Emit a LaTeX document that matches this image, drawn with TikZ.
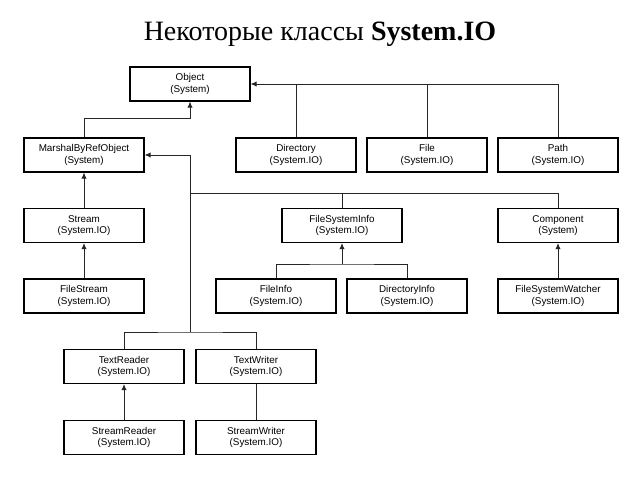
\documentclass[tikz,border=0pt]{standalone}
\usepackage{fontspec}
\setmainfont{Liberation Serif}
\newfontfamily\boxfont{Liberation Sans}
\usetikzlibrary{positioning, arrows.meta}

\begin{document}
\begin{tikzpicture}
[
    x=0.75pt, y=-0.75pt, line width=0.7pt,
    % The classes are nodes named after the class: C-name
    % Connectors meet at helper coordinates J-1 ... J-4
]

%=================================== Start ===================================
\tikzstyle{cls}   = [draw, shape=rectangle, align=center, inner sep=0pt,
                     line width=0.85pt,
                     minimum width=90pt, minimum height=25.5pt,
                     font=\boxfont\fontsize{7.4}{8.6}\selectfont]
\tikzstyle{link}  = [draw, black!85]
\tikzstyle{isa}   = [link, -{Latex[length=4.5pt, width=4pt]}]

\useasboundingbox (0,0) rectangle (640,480);

\node[font=\fontsize{21}{24}\selectfont] (title) at (320,34)
    {Некоторые классы \textbf{System.IO}};

{
    % Draw the classes
    \foreach \name / \x / \y / \cls / \ns in {
        obj/190/84/Object/System,
        mbro/84/155/MarshalByRefObject/System,
        dir/296/155/Directory/System.IO,
        file/427/155/File/System.IO,
        path/558/155/Path/System.IO,
        stream/84/225.5/Stream/System.IO,
        fsi/342/225.5/FileSystemInfo/System.IO,
        comp/558/225.5/Component/System,
        fstream/84/296/FileStream/System.IO,
        finfo/276/296/FileInfo/System.IO,
        dinfo/407/296/DirectoryInfo/System.IO,
        fsw/558/296/FileSystemWatcher/System.IO,
        treader/124/366.5/TextReader/System.IO,
        twriter/256/366.5/TextWriter/System.IO,
        sreader/124/437.5/StreamReader/System.IO,
        swriter/256/437.5/StreamWriter/System.IO}
        \node[cls] (C-\name) at (\x,\y) {\cls\\(\ns)};

    % helper coordinates
    \coordinate (J-1) at (190,193);
    \coordinate (J-2) at (190,332);
    \coordinate (J-3) at (342,264);
    \coordinate (J-4) at (84,118);

    % Directory, File, Path -> Object
    \draw[isa] (C-path.north) |- (C-obj.east);
    \foreach \name in {dir, file}
        \draw[link] (C-\name.north) -- (C-\name.north |- C-obj.east);

    % MarshalByRefObject -> Object
    \draw[isa] (C-mbro.north) -- (J-4) -| (C-obj.south);

    % the long bus to MarshalByRefObject
    \draw[isa] (J-2) -- (J-1 |- C-mbro.east) -- (C-mbro.east);
    \draw[link] (C-comp.north) |- (J-1);
    \draw[link] (C-fsi.north) -- (C-fsi.north |- J-1);
    \draw[link] (C-treader.north) |- (J-2) -| (C-twriter.north);

    % FileInfo, DirectoryInfo -> FileSystemInfo
    \draw[isa] (J-3) -- (C-fsi.south);
    \draw[link] (C-finfo.north) |- (J-3) -| (C-dinfo.north);

    % Connect nodes
    \foreach \src / \dst in {stream/mbro, fstream/stream, fsw/comp, sreader/treader}
        \path (C-\src.north) edge[isa] (C-\dst.south);
    \path (C-swriter.north) edge[link] (C-twriter.south);
}
%==================================== END ====================================

\end{tikzpicture}
\end{document}
